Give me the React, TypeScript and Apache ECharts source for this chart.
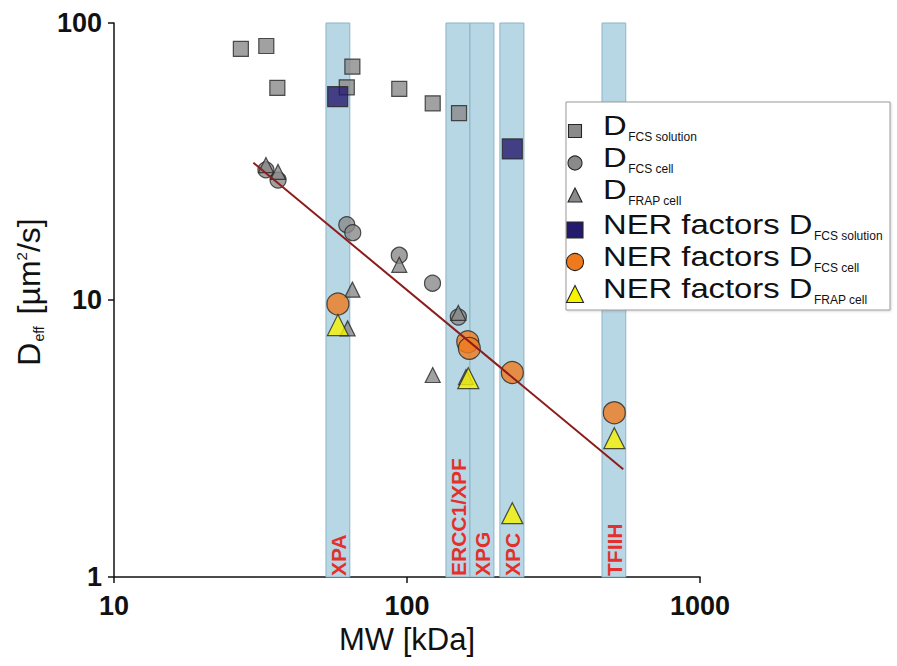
import React, { useEffect, useRef } from "react";
import * as echarts from "echarts";

// Data (MW in kDa, D in µm²/s)
const fcsSolution: number[][] = [
  [27.1, 80.6], [33.1, 82.6], [36.1, 58.3], [65.1, 69.6],
  [62.3, 58.6], [94.1, 57.8], [122.4, 51.3], [150.5, 47.3],
];
const fcsCell: number[][] = [
  [33.0, 29.5], [36.3, 27.1], [62.3, 18.7], [65.3, 17.5],
  [94.1, 14.5], [122.2, 11.5], [149.7, 8.68],
];
const frapCell: number[][] = [
  [33.0, 30.7], [36.3, 29.0], [65.1, 10.9], [94.1, 13.4],
  [62.7, 7.9], [122.4, 5.36], [149.7, 8.98], [159, 5.27],
];
const nerFcsSolution: number[][] = [[58.0, 54.2], [228.8, 35.1]];
const nerFcsCell: number[][] = [
  [58.1, 9.67], [161.2, 7.07], [163.2, 6.69], [228.8, 5.47], [510, 3.92],
];
const nerFrapCell: number[][] = [
  [58.1, 8.12], [161.9, 5.22], [228.8, 1.7], [510, 3.17],
];
const fitLine: number[][] = [[29.9, 31.3], [547, 2.45]];

const bandNames = ["XPA", "ERCC1/XPF", "XPG", "XPC", "TFIIH"];
const bandStart = [52.9, 135.8, 164, 207.5, 463];
const bandEnd = [63.8, 164, 198, 250.7, 558];

const seriesNames = [
  "D FCS solution",
  "D FCS cell",
  "D FRAP cell",
  "NER factors D FCS solution",
  "NER factors D FCS cell",
  "NER factors D FRAP cell",
];
const legendMain = ["D", "D", "D", "NER factors D", "NER factors D", "NER factors D"];
const legendSub = ["FCS solution", "FCS cell", "FRAP cell", "FCS solution", "FCS cell", "FRAP cell"];

const FONT = '"Liberation Sans", Arial, Helvetica, sans-serif';

const COLORS = {
  gray: "#8a8a8a",
  navy: "#25196c",
  orange: "#ef7a1e",
  yellow: "#f8f400",
  border: "#262626",
};

export default function App() {
  const ref = useRef<HTMLDivElement>(null);

  useEffect(() => {
    document.body.style.margin = "0";
    if (!ref.current) return;
    const chart = echarts.init(ref.current, undefined, { renderer: "svg" });

    const border = { borderColor: COLORS.border, borderWidth: 1.2 };
    const scatter = (name: string, data: number[][], symbol: string, size: number, color: string, z: number) => ({
      type: "scatter",
      name,
      data,
      symbol,
      symbolSize: size,
      itemStyle: { color, ...border },
      z,
    });

    // ---- legend drawn as graphic elements (box, icons, texts with subscripts)
    const ctx = document.createElement("canvas").getContext("2d")!;
    const bigSize = 28.5;
    const bigScale = 1.15;
    const subSize = 12;
    ctx.font = `${bigSize}px "Liberation Sans"`;
    const legendIcon = [
      { kind: "rect", size: 13, color: COLORS.gray },
      { kind: "circle", size: 14, color: COLORS.gray },
      { kind: "triangle", size: 14, color: COLORS.gray },
      { kind: "rect", size: 16, color: COLORS.navy },
      { kind: "circle", size: 17, color: COLORS.orange },
      { kind: "triangle", size: 17, color: COLORS.yellow },
    ];
    const lx = 566, ly = 102, lw = 324, lh = 208;
    const iconX = 575, textX = 603;
    const elements: any[] = [
      {
        type: "rect",
        z: 10,
        shape: { x: lx, y: ly, width: lw, height: lh },
        style: { fill: "#ffffff", stroke: "#9a9a9a", lineWidth: 1, shadowColor: "rgba(0,0,0,0.15)", shadowBlur: 2, shadowOffsetX: 1, shadowOffsetY: 1 },
      },
    ];
    legendMain.forEach((main, i) => {
      const base = 135 + 32 * i + (i >= 3 ? 3 : 0);
      const cy = base - 4;
      const ic = legendIcon[i];
      const h = ic.size / 2;
      const st = { fill: ic.color, stroke: COLORS.border, lineWidth: 1.1 };
      if (ic.kind === "rect") {
        elements.push({ type: "rect", z: 11, shape: { x: iconX - h, y: cy - h, width: ic.size, height: ic.size }, style: st });
      } else if (ic.kind === "circle") {
        elements.push({ type: "circle", z: 11, shape: { cx: iconX, cy, r: h }, style: st });
      } else {
        elements.push({
          type: "polygon",
          z: 11,
          shape: { points: [[iconX, cy - h], [iconX + h, cy + h], [iconX - h, cy + h]] },
          style: st,
        });
      }
      const w = ctx.measureText(main).width * bigScale;
      elements.push({
        type: "text",
        z: 12,
        x: textX,
        y: base - 0.35 * bigSize,
        scaleX: bigScale,
        style: { text: main, font: `${bigSize}px ${FONT}`, fill: "#111", align: "left", verticalAlign: "middle" },
      });
      elements.push({
        type: "text",
        z: 12,
        x: textX + w + 1.5,
        y: base + 6 - 0.35 * subSize,
        style: { text: legendSub[i], font: `${subSize}px ${FONT}`, fill: "#111", align: "left", verticalAlign: "middle" },
      });
    });

    const option: any = {
      animation: false,
      backgroundColor: "#ffffff",
      grid: { left: 114, right: 197, top: 23, bottom: 89 },
      xAxis: {
        type: "log",
        logBase: 10,
        min: 10,
        max: 1000,
        axisLine: { show: true, lineStyle: { color: "#111", width: 1.5 } },
        axisTick: { show: true, length: 6, lineStyle: { color: "#111", width: 1.5 } },
        minorTick: { show: false },
        splitLine: { show: false },
        axisLabel: {
          margin: 15,
          fontSize: 27,
          fontWeight: "bold",
          fontFamily: FONT,
          color: "#111",
          formatter: (v: number) => String(Math.round(v)),
        },
        name: "MW [kDa]",
        nameLocation: "middle",
        nameGap: 47,
        nameTextStyle: { fontSize: 31, fontFamily: FONT, color: "#111" },
      },
      yAxis: {
        type: "log",
        logBase: 10,
        min: 1,
        max: 100,
        axisLine: { show: true, lineStyle: { color: "#111", width: 1.5 } },
        axisTick: { show: true, length: 6, lineStyle: { color: "#111", width: 1.5 } },
        minorTick: { show: false },
        splitLine: { show: false },
        axisLabel: {
          margin: 12,
          fontSize: 27,
          fontWeight: "bold",
          fontFamily: FONT,
          color: "#111",
          formatter: (v: number) => String(Math.round(v)),
        },
        name: "{d0|D}{e|eff}{d| [µm}{p|2}{d|/s]}",
        nameLocation: "middle",
        nameGap: 60,
        nameTextStyle: {
          color: "#111",
          fontFamily: FONT,
          rich: {
            d0: { fontSize: 32, lineHeight: 34, fontFamily: FONT, color: "#111", padding: [0, 0, 0, 16] },
            d: { fontSize: 32, lineHeight: 34, fontFamily: FONT, color: "#111" },
            e: { fontSize: 14, lineHeight: 14, verticalAlign: "bottom", fontFamily: FONT, color: "#111", padding: [0, 3, 0, 1] },
            p: { fontSize: 15, lineHeight: 15, verticalAlign: "top", fontFamily: FONT, color: "#111", padding: [2, 0, 0, 0] },
          },
        },
      },
      graphic: { elements },
      series: [
        {
          type: "custom",
          name: "bands",
          silent: true,
          z: 1,
          data: bandNames.map((_, i) => [bandStart[i], bandEnd[i], 1, 100]),
          encode: { x: [0, 1], y: [2, 3] },
          renderItem: (params: any, api: any) => {
            const p0 = api.coord([api.value(0), api.value(3)]);
            const p1 = api.coord([api.value(1), api.value(2)]);
            const label = bandNames[params.dataIndex];
            return {
              type: "group",
              children: [
                {
                  type: "rect",
                  shape: { x: p0[0], y: p0[1], width: p1[0] - p0[0], height: p1[1] - p0[1] },
                  style: { fill: "#b7d7e4", stroke: "#8db4c6", lineWidth: 1 },
                },
                {
                  type: "text",
                  x: (p0[0] + p1[0]) / 2 + 1,
                  y: p1[1] - 1,
                  rotation: Math.PI / 2,
                  style: {
                    text: label,
                    fill: "#e3302c",
                    font: `bold 21px ${FONT}`,
                    align: "left",
                    verticalAlign: "middle",
                  },
                },
              ],
            };
          },
        },
        scatter(seriesNames[0], fcsSolution, "rect", 15, COLORS.gray, 3),
        scatter(seriesNames[1], fcsCell, "circle", 16, COLORS.gray, 3),
        scatter(seriesNames[2], frapCell, "triangle", 15, COLORS.gray, 3),
        scatter(seriesNames[3], nerFcsSolution, "rect", 20, COLORS.navy, 4),
        scatter(seriesNames[4], nerFcsCell, "circle", 22, COLORS.orange, 4),
        scatter(seriesNames[5], nerFrapCell, "triangle", 21, COLORS.yellow, 4),
        {
          type: "line",
          name: "fit",
          data: fitLine,
          symbol: "none",
          z: 5,
          lineStyle: { color: "#8b1d1d", width: 2 },
        },
      ],
    };

    chart.setOption(option);
    return () => chart.dispose();
  }, []);

  return <div ref={ref} style={{ width: 897, height: 666 }} />;
}
